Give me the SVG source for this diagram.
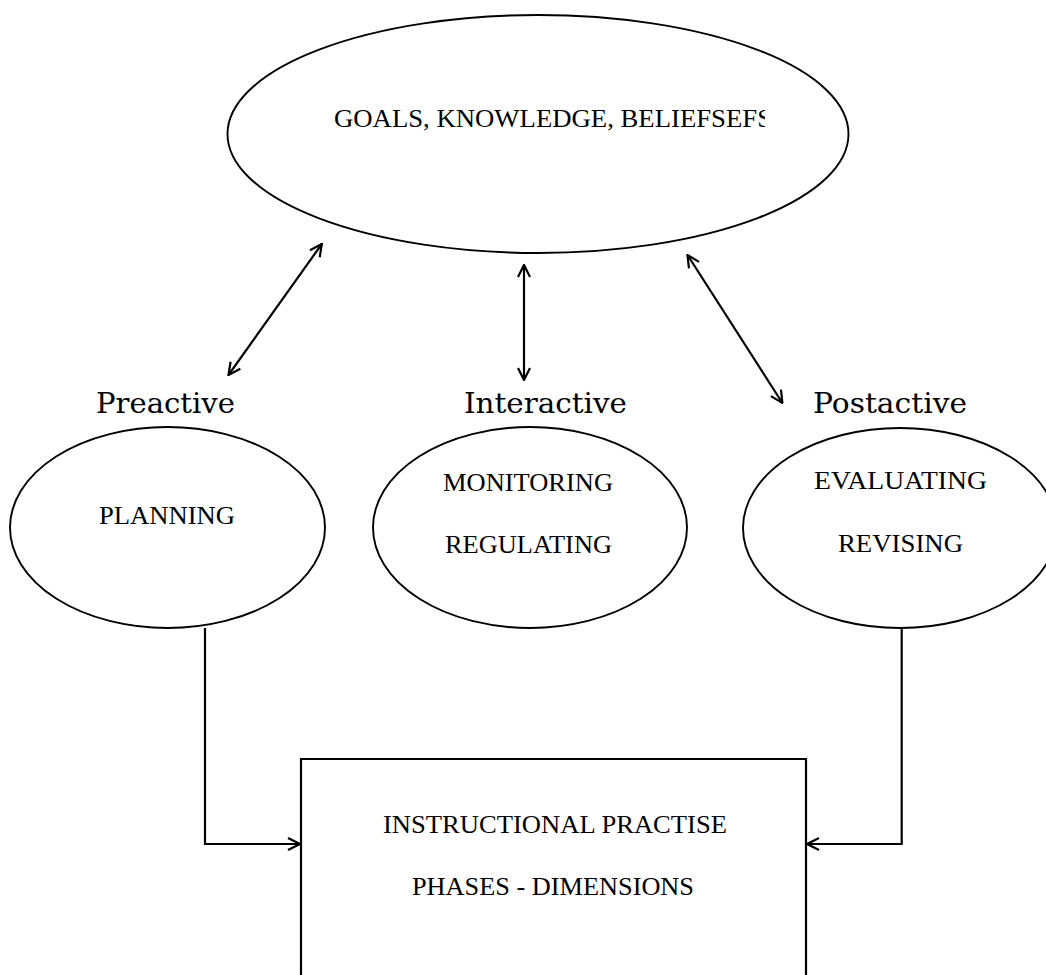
<svg xmlns="http://www.w3.org/2000/svg" width="1046" height="975" viewBox="0 0 1046 975">
  <style>
    .shape { fill: none; stroke: #000; stroke-width: 1.9; }
    .box { fill: none; stroke: #000; stroke-width: 2.2; }
    .conn { fill: none; stroke: #000; stroke-width: 2.2; }
    .inner { font-family: "Liberation Serif", "Times New Roman", serif; font-size: 26px; fill: #000; }
    .label { font-family: "DejaVu Serif", "Liberation Serif", serif; font-size: 28px; fill: #000; }
  </style>
  <defs>
    <marker id="arrow" viewBox="0 0 14 14" refX="13" refY="7" markerWidth="14" markerHeight="14" markerUnits="userSpaceOnUse" orient="auto-start-reverse">
      <path d="M1,1 L13,7 L1,13" fill="none" stroke="#000" stroke-width="2.2"/>
    </marker>
    <clipPath id="goalsClip">
      <rect x="300" y="90" width="465" height="50"/>
    </clipPath>
  </defs>
  <rect width="1046" height="975" fill="#fff"/>

  <g id="goals">
    <ellipse class="shape" cx="538" cy="134" rx="310.5" ry="119"/>
    <text class="inner" x="334" y="127" textLength="438" lengthAdjust="spacingAndGlyphs" clip-path="url(#goalsClip)">GOALS, KNOWLEDGE, BELIEFSEFS</text>
  </g>

  <g id="preactive-label">
    <text class="label" x="96" y="413" textLength="139" lengthAdjust="spacingAndGlyphs">Preactive</text>
  </g>
  <g id="interactive-label">
    <text class="label" x="464" y="413" textLength="163" lengthAdjust="spacingAndGlyphs">Interactive</text>
  </g>
  <g id="postactive-label">
    <text class="label" x="813" y="413" textLength="154" lengthAdjust="spacingAndGlyphs">Postactive</text>
  </g>

  <g id="planning">
    <ellipse class="shape" cx="167.5" cy="527.5" rx="157.5" ry="100.5"/>
    <text class="inner" x="99" y="524" textLength="136" lengthAdjust="spacingAndGlyphs">PLANNING</text>
  </g>

  <g id="monitoring">
    <ellipse class="shape" cx="530" cy="527.5" rx="157" ry="100.5"/>
    <text class="inner" x="443" y="491" textLength="170" lengthAdjust="spacingAndGlyphs">MONITORING</text>
    <text class="inner" x="445" y="553" textLength="167" lengthAdjust="spacingAndGlyphs">REGULATING</text>
  </g>

  <g id="evaluating">
    <ellipse class="shape" cx="900" cy="528" rx="157" ry="100"/>
    <text class="inner" x="814" y="489" textLength="173" lengthAdjust="spacingAndGlyphs">EVALUATING</text>
    <text class="inner" x="838" y="552" textLength="125" lengthAdjust="spacingAndGlyphs">REVISING</text>
  </g>

  <g id="instructional">
    <path class="box" d="M301,980 V759 H806 V980"/>
    <text class="inner" x="383" y="833" textLength="344" lengthAdjust="spacingAndGlyphs">INSTRUCTIONAL PRACTISE</text>
    <text class="inner" x="412" y="895" textLength="282" lengthAdjust="spacingAndGlyphs">PHASES - DIMENSIONS</text>
  </g>

  <g id="connectors">
    <line class="conn" x1="228.5" y1="375" x2="321.8" y2="244" marker-start="url(#arrow)" marker-end="url(#arrow)"/>
    <line class="conn" x1="524" y1="380" x2="524" y2="265" marker-start="url(#arrow)" marker-end="url(#arrow)"/>
    <line class="conn" x1="782.4" y1="403" x2="687.5" y2="255" marker-start="url(#arrow)" marker-end="url(#arrow)"/>
    <path class="conn" d="M205,628 V844 H300" marker-end="url(#arrow)"/>
    <path class="conn" d="M901.7,628 V844 H807" marker-end="url(#arrow)"/>
  </g>
</svg>
